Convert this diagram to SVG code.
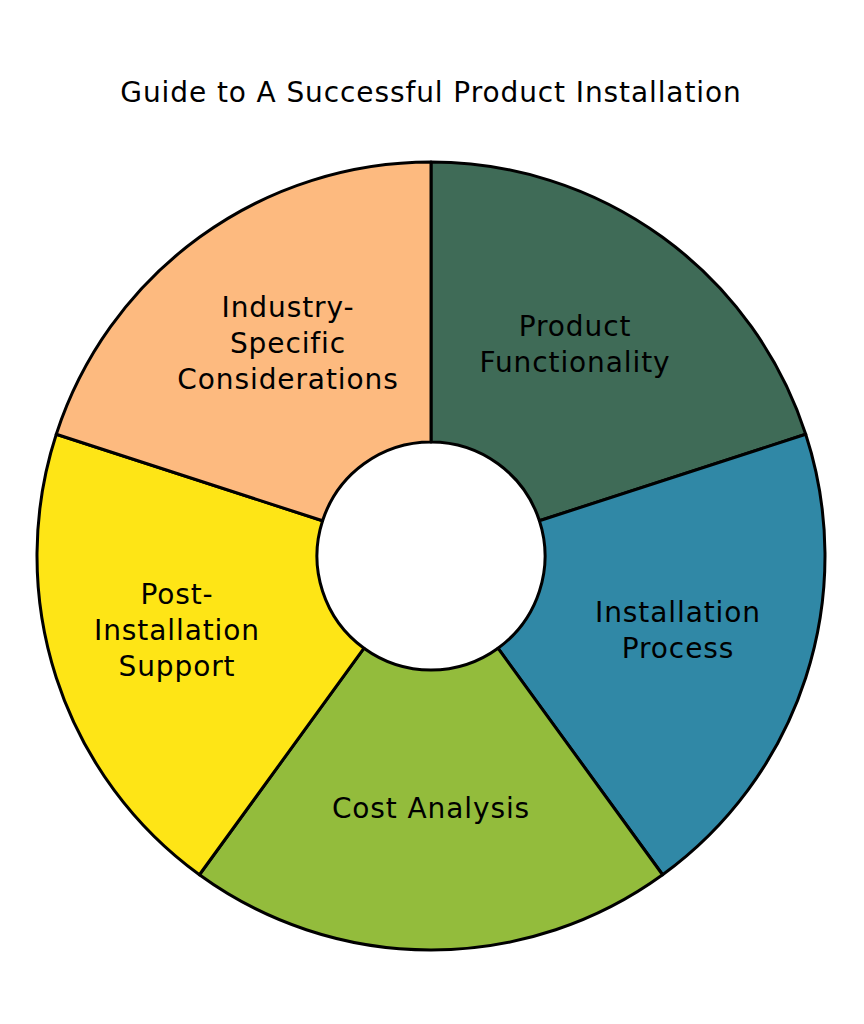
<svg xmlns="http://www.w3.org/2000/svg" width="864" height="1024" viewBox="0 0 864 1024">
<style>
text{font-family:"DejaVu Sans","Open Sans",sans-serif;font-size:28px;letter-spacing:0.9px;fill:#000;text-anchor:middle}
.seg{stroke:#000;stroke-width:3;stroke-linejoin:round}
</style>
<rect width="864" height="1024" fill="#fff"/>
<text x="431" y="102">Guide to A Successful Product Installation</text>
<g id="product-functionality">
<path class="seg" fill="#3F6B57" d="M431,162 A394,394 0 0 1 805.72,434.25 L539.42,520.77 A114,114 0 0 0 431,442 Z"/>
<text x="575" y="336">Product</text>
<text x="575" y="372">Functionality</text>
</g>
<g id="installation-process">
<path class="seg" fill="#3088A6" d="M805.72,434.25 A394,394 0 0 1 662.59,874.75 L498.01,648.23 A114,114 0 0 0 539.42,520.77 Z"/>
<text x="678" y="622">Installation</text>
<text x="678" y="658">Process</text>
</g>
<g id="cost-analysis">
<path class="seg" fill="#93BC3C" d="M662.59,874.75 A394,394 0 0 1 199.41,874.75 L363.99,648.23 A114,114 0 0 0 498.01,648.23 Z"/>
<text x="431" y="818">Cost Analysis</text>
</g>
<g id="post-installation-support">
<path class="seg" fill="#FEE516" d="M199.41,874.75 A394,394 0 0 1 56.28,434.25 L322.58,520.77 A114,114 0 0 0 363.99,648.23 Z"/>
<text x="177" y="604">Post-</text>
<text x="177" y="640">Installation</text>
<text x="177" y="676">Support</text>
</g>
<g id="industry-specific-considerations">
<path class="seg" fill="#FDBA7F" d="M56.28,434.25 A394,394 0 0 1 431,162 L431,442 A114,114 0 0 0 322.58,520.77 Z"/>
<text x="288" y="317">Industry-</text>
<text x="288" y="353">Specific</text>
<text x="288" y="389">Considerations</text>
</g>
</svg>
